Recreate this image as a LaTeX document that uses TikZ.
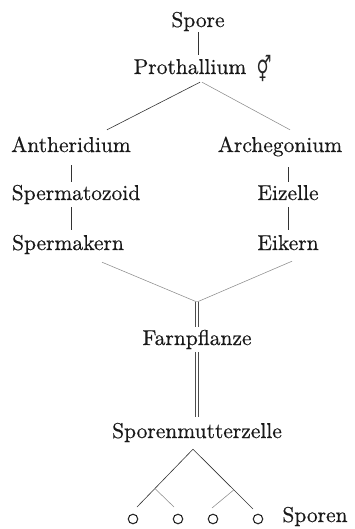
\documentclass[tikz,border=0pt]{standalone}
\usepackage{fontspec}
\setmainfont{lmroman10-regular}[Extension=.otf, FakeBold=0.5]
\newfontfamily\symfont{DejaVu Sans}
\begin{document}
\begin{tikzpicture}[x=1pt,y=-1pt,
  lbl/.style={inner sep=0pt, anchor=base, text height=15pt, text depth=4.5pt,
              font=\fontsize{21.5}{25}\selectfont, text=black!90},
  conn/.style={draw=black!80, line width=0.6pt},
  faint/.style={draw=black!45, line width=0.55pt},
  dbl/.style={draw=black!70, double=white, double distance=2.2pt, line width=0.55pt},
  spore/.style={circle, draw=black!85, line width=1.1pt, minimum size=9.5pt, inner sep=0pt}]
\useasboundingbox (0,0) rectangle (354,529);

% labels
\node[lbl] (sp)   at (198,27)  {Spore};
\node[lbl] (pro)  at (190,74)  {Prothallium};
\node[inner sep=0pt, text=black!85] (sym) at (264,68) {\scalebox{0.75}[1.15]{\symfont\fontsize{22}{24}\selectfont ⚥}};
\node[lbl] (ant)  at (71,152)  {Antheridium};
\node[lbl] (sz)   at (76,200)  {Spermatozoid};
\node[lbl] (sk)   at (68,250)  {Spermakern};
\node[lbl] (arc)  at (280,152) {Archegonium};
\node[lbl] (ez)   at (288,200) {Eizelle};
\node[lbl] (ek)   at (288,250) {Eikern};
\node[lbl] (farn) at (197,345) {Farnpflanze};
\node[lbl] (smz)  at (197,438) {Sporenmutterzelle};

% spores
\node[spore] (c1) at (133,519) {};
\node[spore] (c2) at (178,519) {};
\node[spore] (c3) at (213,519) {};
\node[spore] (c4) at (258,519) {};
\node[lbl] (spn) at (315,522) {Sporen};

% vertical connectors
\draw[conn, shorten <=0.5pt, shorten >=4pt] (sp.south) -- (sp.south |- pro.north);
\draw[conn, shorten <=8.5pt, shorten >=3pt] (ant.south) -- (ant.south |- sz.north);
\draw[conn, shorten <=2.5pt, shorten >=5pt] (ant.south |- sz.south) -- (ant.south |- sk.north);
\draw[conn, shorten <=10.5pt, shorten >=3pt] (ez.north |- arc.south) -- (ez.north);
\draw[conn, shorten <=2.5pt, shorten >=5pt] (ez.south) -- (ek.north);

% split from prothallium
\coordinate (ptop) at ([xshift=10pt,yshift=-3.5pt]pro.south);
\coordinate (antTop) at ([xshift=36pt,yshift=7pt]ant.north);
\coordinate (arcTop) at ([xshift=10pt,yshift=7pt]arc.north);
\draw[conn] (ptop) -- (antTop);
\draw[faint] ([xshift=2pt]ptop) -- (arcTop);

% fusion
\coordinate (skEnd) at ([xshift=34pt,yshift=-7.5pt]sk.south);
\coordinate (ekEnd) at ([xshift=4pt,yshift=-6.5pt]ek.south);
\coordinate (join) at (197,302);
\draw[faint] (skEnd) -- (join);
\draw[faint] (ekEnd) -- (join);

% double lines
\draw[dbl] (join) -- ([yshift=3pt]farn.north);
\draw[dbl] ([yshift=-2.5pt]farn.south) -- ([yshift=6pt]smz.north);

% tree of spores
\coordinate (apex) at ([xshift=-4pt,yshift=-6.5pt]smz.south);
\draw[conn] (apex) -- ([xshift=4pt,yshift=12pt]c1.center) coordinate[pos=0.68] (bl);
\draw[conn] (apex) -- ([xshift=-5pt,yshift=10pt]c4.center) coordinate[pos=0.68] (br);
\draw[faint] (bl) -- ([xshift=-4pt,yshift=12pt]c2.center);
\draw[faint] (br) -- ([xshift=-1pt,yshift=11pt]c3.center);
\end{tikzpicture}
\end{document}
